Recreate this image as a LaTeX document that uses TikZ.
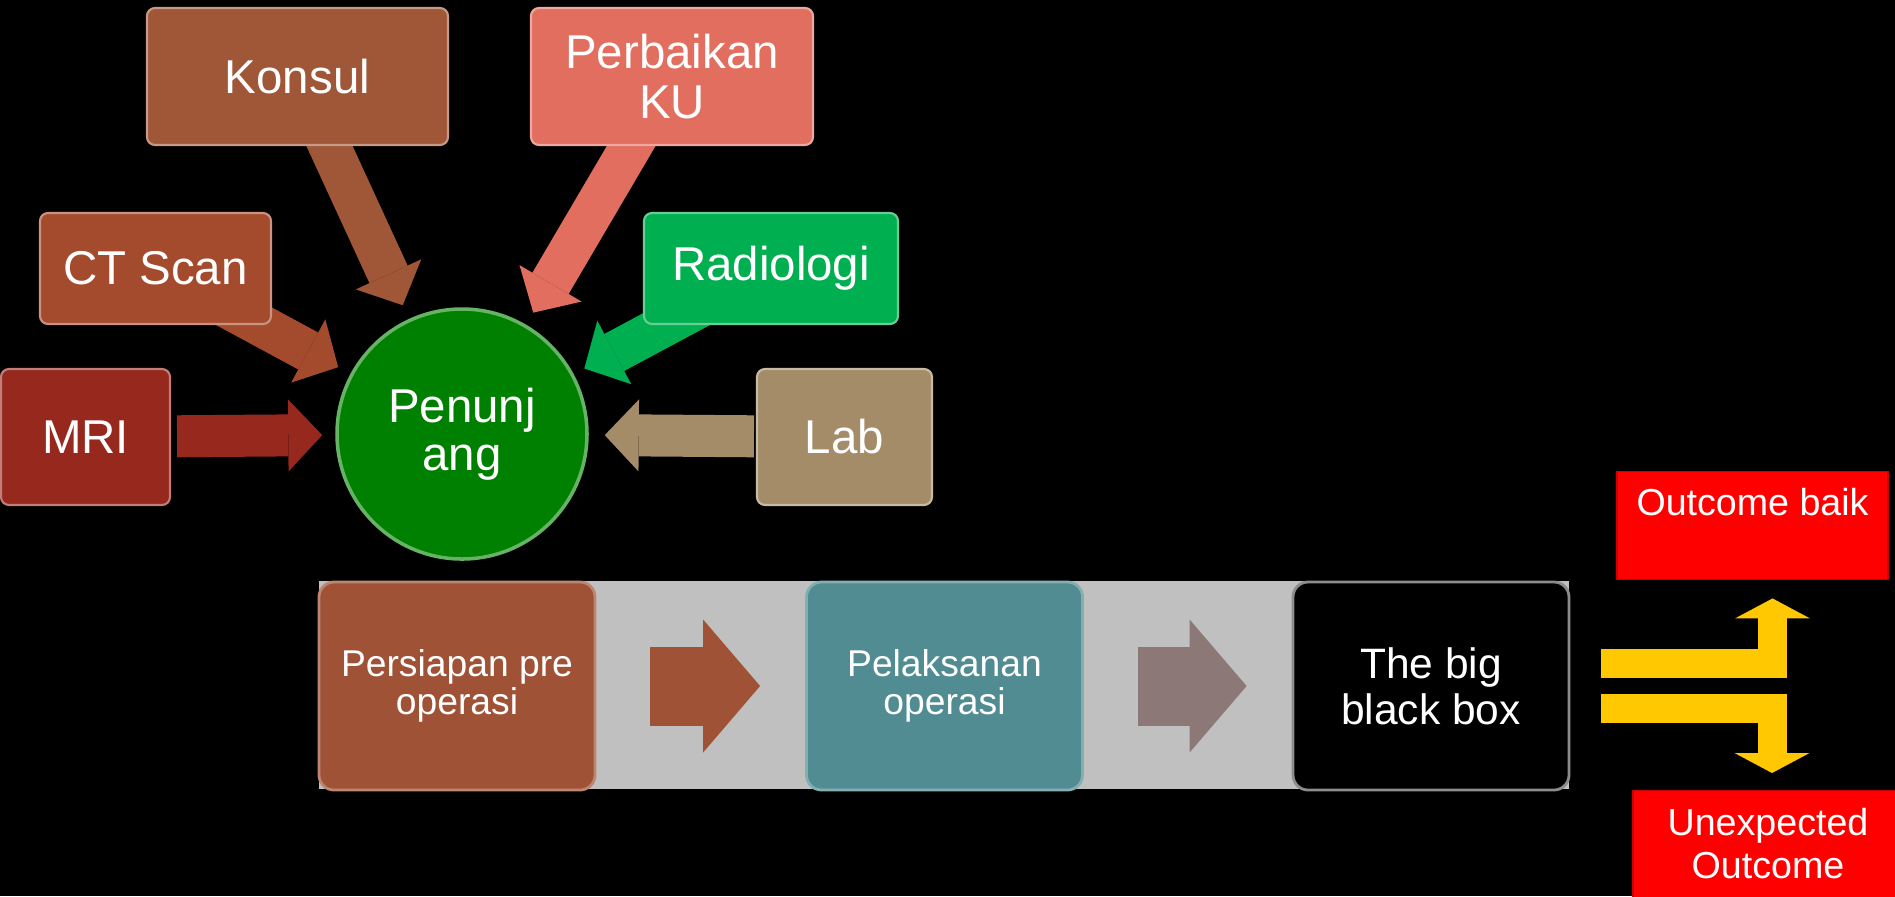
\documentclass[tikz,border=0pt]{standalone}
\usepackage{fontspec}
\setmainfont{Liberation Sans}
\usetikzlibrary{arrows.meta}
\pgfdeclarelayer{bg}
\pgfsetlayers{bg,main}
\definecolor{konsulc}{RGB}{160,87,55}
\definecolor{perbaikanc}{RGB}{225,110,95}
\definecolor{ctc}{RGB}{165,75,45}
\definecolor{radiologic}{RGB}{0,175,80}
\definecolor{mric}{RGB}{150,40,30}
\definecolor{labc}{RGB}{165,140,105}
\definecolor{penunjangc}{RGB}{0,128,0}
\definecolor{persiapanc}{RGB}{160,82,55}
\definecolor{pelaksanaanc}{RGB}{80,140,145}
\definecolor{panahduac}{RGB}{140,120,118}
\definecolor{kuning}{RGB}{255,200,0}
\definecolor{pita}{RGB}{192,192,192}

\begin{document}
\begin{tikzpicture}[x=0.1mm, y=-0.1mm,
    kotak/.style={rectangle, rounded corners=0.8mm, draw=#1!60!white, fill=#1, line width=0.6pt, text=white, inner sep=0pt, align=center, font=\fontsize{13.5}{14.2}\selectfont},
    langkah/.style={rectangle, rounded corners=1.5mm, draw=#1!70!white, fill=#1, line width=0.8pt, text=white, inner sep=0pt, align=center, minimum width=27.6mm, minimum height=20.8mm, font=\fontsize{10.6}{10.9}\selectfont},
    hasil/.style={rectangle, fill=red, draw=red!80!black, text=white, inner sep=0pt, anchor=north, minimum width=27.1mm, font=\fontsize{10.7}{12.2}\selectfont},
    panah/.style={draw=#1, line width=4.2mm, -{Triangle[width=7.2mm, length=3.4mm, line width=0pt]}},
    panahbesar/.style={draw=#1, line width=7.9mm, -{Triangle[width=13.3mm, length=5.7mm, line width=0pt]}, shorten <=5.4mm, shorten >=4.5mm},
    panahkuning/.style={draw=kuning, line width=2.9mm, line join=miter, -{Triangle[width=7.5mm, length=2mm, line width=0pt]}}]

    \useasboundingbox (0,0) rectangle (1895,896);

    \node[kotak=konsulc, minimum width=30.1mm, minimum height=13.7mm]       (konsul)      at (297.5,76.5) {Konsul};
    \node[kotak=perbaikanc, minimum width=28.2mm, minimum height=13.7mm]    (perbaikan)   at (672,76.5)   {Perbaikan\\KU};
    \node[kotak=ctc, minimum width=23.1mm, minimum height=11.1mm]           (ctscan)      at (155.5,268.5) {CT Scan};
    \node[kotak=radiologic, minimum width=25.4mm, minimum height=11.1mm]    (radiologi)   at (771,268.5)  {Radiologi};
    \node[kotak=mric, minimum width=16.9mm, minimum height=13.6mm]          (mri)         at (85.5,437)   {MRI};
    \node[kotak=labc, minimum width=17.5mm, minimum height=13.6mm]          (lab)         at (844.5,437)  {Lab};
    \node[circle, fill=penunjangc, draw=penunjangc!60!white, line width=1pt, minimum size=25mm, inner sep=0pt, text=white, align=center, font=\fontsize{13.5}{13.7}\selectfont] (penunjang) at (462,434) {Penunj\\ang};

    \node[langkah=persiapanc]   (persiapan)   at (457,686)    {Persiapan pre\\operasi};
    \node[langkah=pelaksanaanc] (pelaksanaan) at (944.5,686)  {Pelaksanan\\operasi};
    \node[langkah=black, draw=black!45!white, font=\fontsize{12.1}{13}\selectfont] (blackbox) at (1431,686) {The big\\black box};

    \node[hasil, text height=4.4mm, text depth=6.4mm] (baik)       at (1752.5,471) {Outcome baik};
    \node[hasil, minimum width=27mm, text height=4.5mm, text depth=6.3mm] (unexpected) at (1768,790)
        {\begin{tabular}[t]{@{}c@{}}Unexpected\\Outcome\end{tabular}};

    \begin{pgfonlayer}{bg}
        \fill[black] (0,0) rectangle (1895,896);
        \fill[pita] (319,581) rectangle (1569,789);

        \path (konsul.center)    edge[panah=konsulc, shorten >=1.5mm]    (penunjang);
        \path (perbaikan.center) edge[panah=perbaikanc, shorten >=1.4mm] (penunjang);
        \path (ctscan.center)    edge[panah=ctc, shorten >=1.4mm]        (penunjang);
        \path (radiologi.center) edge[panah=radiologic, shorten >=1.2mm] (penunjang);
        \path (mri)              edge[panah=mric, shorten <=0.6mm, shorten >=1.3mm] (penunjang);
        \path (lab)              edge[panah=labc, shorten <=0.2mm, shorten >=1.6mm] (penunjang);

        \path (persiapan)   edge[panahbesar=persiapanc] (pelaksanaan);
        \path (pelaksanaan) edge[panahbesar=panahduac]  (blackbox);
    \end{pgfonlayer}

    \draw[panahkuning, shorten >=1.8mm] ([shift={(31,-22.5)}]blackbox.east) -| ([shift={(20,0)}]baik.south);
    \draw[panahkuning, shorten >=1.7mm] ([shift={(31,22.5)}]blackbox.east) -| ([shift={(4,0)}]unexpected.north);

\end{tikzpicture}
\end{document}
